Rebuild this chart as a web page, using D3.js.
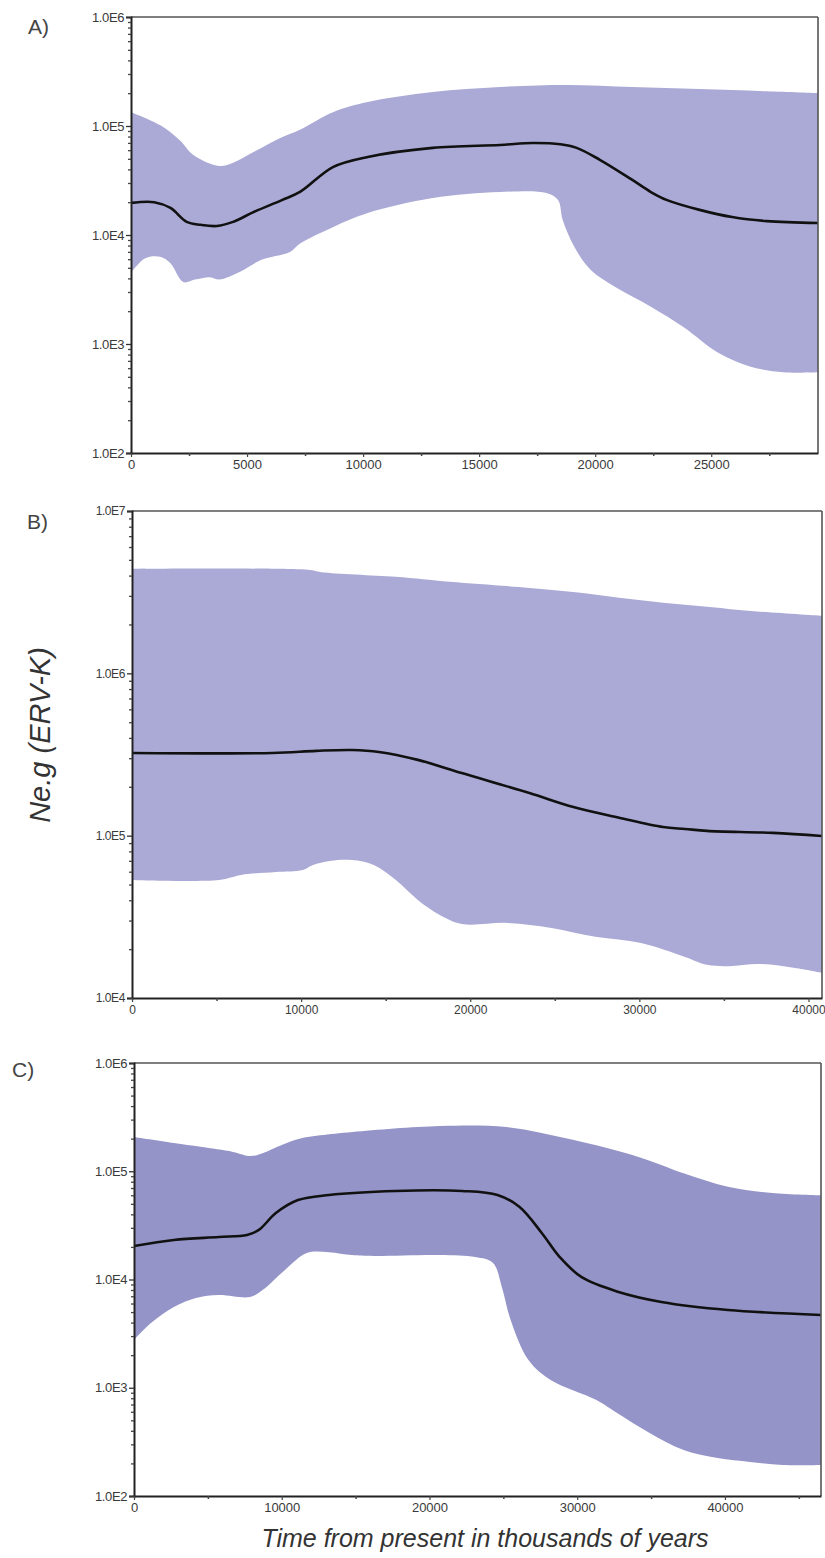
<!DOCTYPE html>
<html><head><meta charset="utf-8">
<script src="https://cdn.jsdelivr.net/npm/d3@7"></script>
<style>html,body{margin:0;padding:0;background:#fff;}svg{display:block;}</style>
</head><body>
<script>
// ---------- DATA (x = years before present, y = Ne.g) ----------
const aUpper = [[0,1.34e5],[1250,1.02e5],[2100,7.4e4],[2700,5.4e4],[3800,4.3e4],[4400,4.6e4],[5300,5.8e4],[6500,7.9e4],[7300,9.3e4],[8700,1.34e5],[10200,1.66e5],[13000,2.05e5],[15900,2.28e5],[18800,2.38e5],[21600,2.28e5],[24500,2.18e5],[27400,2.08e5],[29600,2.0e5]];
const aMean  = [[0,1.97e4],[1000,2.0e4],[1700,1.77e4],[2400,1.32e4],[3000,1.24e4],[3700,1.21e4],[4400,1.32e4],[5300,1.63e4],[6500,2.09e4],[7300,2.5e4],[8700,4.2e4],[10200,5.2e4],[13000,6.3e4],[15900,6.7e4],[17300,6.98e4],[18500,6.8e4],[19200,6.3e4],[20200,4.9e4],[21600,3.2e4],[22400,2.48e4],[23100,2.09e4],[24500,1.7e4],[25900,1.46e4],[27400,1.34e4],[29600,1.29e4]];
const aLower = [[0,4.5e3],[600,6.1e3],[1250,6.3e3],[1700,5.5e3],[2250,3.7e3],[2750,3.9e3],[3400,4.1e3],[3800,3.9e3],[4700,4.6e3],[5600,5.9e3],[6850,7.0e3],[7300,8.4e3],[8700,1.18e4],[10200,1.59e4],[13000,2.18e4],[15900,2.48e4],[17900,2.43e4],[18400,2.09e4],[18600,1.37e4],[19100,7.8e3],[19800,4.8e3],[20900,3.3e3],[22400,2.2e3],[23800,1.43e3],[25300,8.3e2],[26700,6.2e2],[28100,5.5e2],[29600,5.5e2]];

const bUpper = [[0,4.4e6],[10400,4.34e6],[11200,4.2e6],[15600,3.93e6],[18800,3.66e6],[23500,3.36e6],[26100,3.17e6],[28800,2.92e6],[31400,2.72e6],[34000,2.57e6],[36600,2.42e6],[40800,2.26e6]];
const bMean  = [[0,3.23e5],[8300,3.23e5],[10900,3.33e5],[13000,3.37e5],[14600,3.28e5],[16900,2.93e5],[19500,2.43e5],[23500,1.83e5],[26100,1.5e5],[28800,1.29e5],[31400,1.13e5],[32700,1.1e5],[34000,1.07e5],[37900,1.04e5],[40800,9.96e4]];
const bLower = [[0,5.33e4],[5150,5.33e4],[6450,5.73e4],[8500,5.97e4],[10100,6.15e4],[10700,6.6e4],[11700,6.98e4],[13000,7.08e4],[14300,6.6e4],[15600,5.33e4],[16900,4.02e4],[18200,3.25e4],[19500,2.86e4],[22200,2.9e4],[24800,2.7e4],[27400,2.38e4],[30100,2.18e4],[32700,1.79e4],[34000,1.6e4],[35300,1.57e4],[37100,1.62e4],[39200,1.53e4],[40800,1.43e4]];

const cUpper = [[0,2.07e5],[2700,1.82e5],[4500,1.68e5],[6700,1.51e5],[7900,1.38e5],[8700,1.47e5],[10000,1.75e5],[11200,2.0e5],[12600,2.15e5],[14800,2.31e5],[20700,2.62e5],[25200,2.56e5],[29700,1.95e5],[34200,1.35e5],[37200,9.6e4],[40200,7.2e4],[43200,6.3e4],[46500,6.0e4]];
const cMean  = [[0,2.04e4],[2700,2.32e4],[5750,2.47e4],[7650,2.58e4],[8450,2.87e4],[9600,4.11e4],[11100,5.42e4],[13200,6.04e4],[17700,6.58e4],[22200,6.58e4],[24600,6.04e4],[26100,4.68e4],[27600,2.69e4],[28800,1.62e4],[30300,1.05e4],[32800,7.67e3],[35700,6.2e3],[40200,5.23e3],[46500,4.7e3]];
const cLower = [[0,2.76e3],[1150,3.96e3],[2700,5.57e3],[4200,6.75e3],[5750,7.19e3],[7850,6.89e3],[8700,8.0e3],[10200,1.22e4],[11700,1.76e4],[13200,1.79e4],[14750,1.68e4],[16200,1.65e4],[20700,1.68e4],[23100,1.61e4],[24300,1.42e4],[24900,8.5e3],[25500,4.2e3],[26700,1.8e3],[28200,1.18e3],[31300,7.7e2],[32700,5.84e2],[34900,3.82e2],[37200,2.66e2],[39500,2.24e2],[41700,2.06e2],[43900,1.93e2],[46500,1.93e2]];

const panelLabels = ["A)", "B)", "C)"];
const aXTicks = [0,5000,10000,15000,20000,25000];
const bXTicks = [0,10000,20000,30000,40000];
const cXTicks = [0,10000,20000,30000,40000];
const yTitle = "Ne.g (ERV-K)";
const xTitle = "Time from present in thousands of years";

// ---------- LAYOUT ----------
const W = 825, H = 1558;
const FONT = "'Liberation Sans', Arial, sans-serif";
const svg = d3.select("body").append("svg").attr("width", W).attr("height", H)
  .style("font-family", FONT);

const panels = [
  {label: panelLabels[0], lx: 28, ly: 34, x0: 131, x1: 818, y0: 17, y1: 453, xMax: 29600, yDom: [1e2, 1e6],
   xTicks: aXTicks, xStep: 5000, fill: "#abaad6", up: aUpper, mean: aMean, low: aLower, fs: 13},
  {label: panelLabels[1], lx: 27, ly: 529, x0: 132, x1: 822, y0: 511, y1: 998, xMax: 40800, yDom: [1e4, 1e7],
   xTicks: bXTicks, xStep: 10000, fill: "#abaad6", up: bUpper, mean: bMean, low: bLower, fs: 12},
  {label: panelLabels[2], lx: 12, ly: 1077, x0: 134, x1: 821, y0: 1063, y1: 1496, xMax: 46500, yDom: [1e2, 1e6],
   xTicks: cXTicks, xStep: 10000, fill: "#9594c8", up: cUpper, mean: cMean, low: cLower, fs: 13}
];

const expFmt = v => "1.0E" + Math.round(Math.log10(v));
const curve = d3.curveCatmullRom.alpha(0.5);

panels.forEach(p => {
  const x = d3.scaleLinear().domain([0, p.xMax]).range([p.x0, p.x1]);
  const y = d3.scaleLog().domain(p.yDom).range([p.y1, p.y0]);
  const g = svg.append("g");
  const clipId = "clip" + p.label[0];
  svg.append("clipPath").attr("id", clipId).append("rect")
    .attr("x", p.x0).attr("y", p.y0).attr("width", p.x1 - p.x0).attr("height", p.y1 - p.y0);
  const plot = g.append("g").attr("clip-path", `url(#${clipId})`);

  const area = d3.area().x(d => x(d[0])).y0(p.y1 + 2).y1(d => y(d[1])).curve(curve);
  plot.append("path").datum(p.up).attr("d", area).attr("fill", p.fill);
  plot.append("path").datum(p.low).attr("d", area).attr("fill", "#fff");
  plot.append("path").datum(p.mean)
    .attr("d", d3.line().x(d => x(d[0])).y(d => y(d[1])).curve(curve))
    .attr("fill", "none").attr("stroke", "#111").attr("stroke-width", 2.6);

  // frame (top & right)
  g.append("line").attr("x1", p.x0).attr("x2", p.x1).attr("y1", p.y0).attr("y2", p.y0)
    .attr("stroke", "#555").attr("stroke-width", 1.6);
  g.append("line").attr("x1", p.x1).attr("x2", p.x1).attr("y1", p.y0).attr("y2", p.y1)
    .attr("stroke", "#555").attr("stroke-width", 1.6);

  // y axis (log)
  const lo = Math.round(Math.log10(p.yDom[0])), hi = Math.round(Math.log10(p.yDom[1]));
  const major = d3.range(lo, hi + 1).map(e => Math.pow(10, e));
  const minor = [];
  d3.range(lo, hi).forEach(e => { for (let k = 2; k <= 9; k++) minor.push(k * Math.pow(10, e)); });
  const yAxis = d3.axisLeft(y).tickValues(major).tickFormat(expFmt).tickSize(5).tickPadding(2);
  const ya = g.append("g").attr("transform", `translate(${p.x0},0)`).call(yAxis);
  ya.attr("font-size", null).attr("font-family", null);
  ya.select(".domain").attr("stroke", "#222").attr("stroke-width", 2);
  ya.selectAll(".tick line").attr("stroke", "#333").attr("stroke-width", 1.3);
  ya.selectAll(".tick text").style("font-size", p.fs + "px").attr("fill", "#3a3a3a")
    .style("font-family", FONT).attr("letter-spacing", -0.4);
  const ym = g.append("g").attr("transform", `translate(${p.x0},0)`)
    .call(d3.axisLeft(y).tickValues(minor).tickFormat("").tickSize(3));
  ym.select(".domain").remove();
  ym.selectAll(".tick line").attr("stroke", "#444").attr("stroke-width", 1.3);

  // x axis
  const xMinor = d3.range(p.xStep / 2, p.xMax, p.xStep);
  const xAxis = d3.axisBottom(x).tickValues(p.xTicks).tickFormat(d3.format("d")).tickSize(4).tickPadding(3).tickSizeOuter(0);
  const xa = g.append("g").attr("transform", `translate(0,${p.y1})`).call(xAxis);
  xa.attr("font-size", null).attr("font-family", null);
  xa.select(".domain").attr("stroke", "#222").attr("stroke-width", 2);
  xa.selectAll(".tick line").attr("stroke", "#444").attr("stroke-width", 1.2);
  xa.selectAll(".tick text").style("font-size", p.fs + "px").attr("fill", "#3a3a3a")
    .style("font-family", FONT);
  const xm = g.append("g").attr("transform", `translate(0,${p.y1})`)
    .call(d3.axisBottom(x).tickValues(xMinor).tickFormat("").tickSize(3));
  xm.select(".domain").remove();
  xm.selectAll(".tick line").attr("stroke", "#444").attr("stroke-width", 1.5);

  // panel label
  svg.append("text").attr("x", p.lx).attr("y", p.ly).text(p.label)
    .attr("font-size", 21).attr("fill", "#444");
});

// titles
svg.append("text").attr("transform", "translate(50,735) rotate(-90)").attr("text-anchor", "middle")
  .attr("font-size", 29).attr("font-style", "italic").attr("fill", "#333").text(yTitle);
svg.append("text").attr("x", 485).attr("y", 1547).attr("text-anchor", "middle")
  .attr("font-size", 25).attr("font-style", "italic").attr("fill", "#333").text(xTitle);
</script>
</body></html>
